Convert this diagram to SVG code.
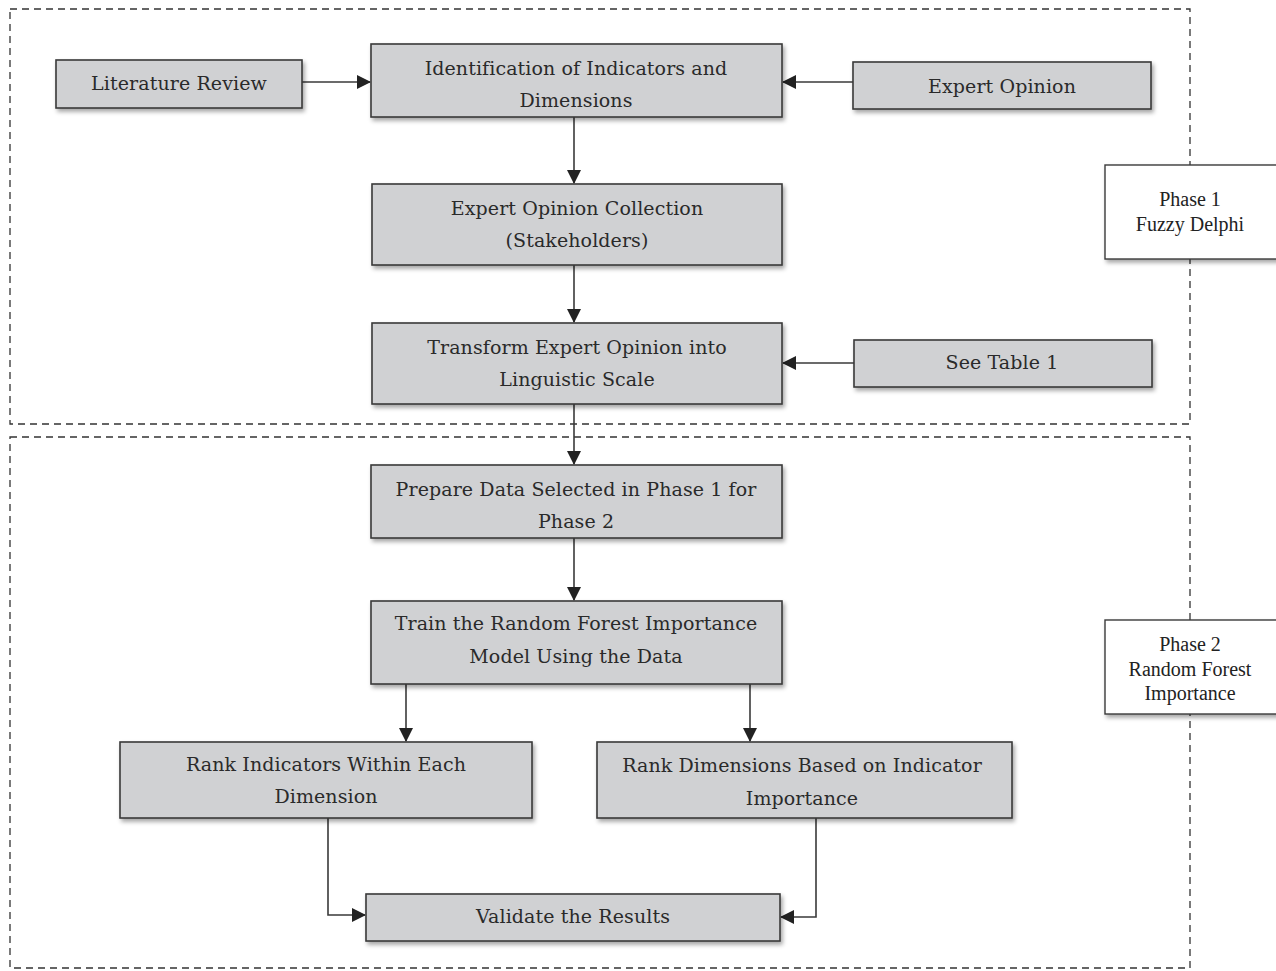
<svg xmlns="http://www.w3.org/2000/svg" width="1276" height="971" viewBox="0 0 1276 971">
<style>
.node rect{fill:#d0d1d3;stroke:#3a3a3a;stroke-width:1.6;filter:url(#sh)}
.lab rect{fill:#ffffff;stroke:#3a3a3a;stroke-width:1.4;filter:url(#sh)}
.node text{font-family:"DejaVu Serif",serif;font-size:19px;fill:#2a2a2a;text-anchor:middle;letter-spacing:0.1px}
.lab text{font-family:"Liberation Serif",serif;font-size:20px;fill:#222;text-anchor:middle}
.phase{fill:none;stroke:#333;stroke-width:1.3;stroke-dasharray:7 5}
#connectors path{fill:none;stroke:#3a3a3a;stroke-width:1.6;marker-end:url(#ah)}
</style>
<defs>
<filter id="sh" x="-5%" y="-10%" width="112%" height="130%">
<feDropShadow dx="2" dy="3" stdDeviation="2" flood-color="#000" flood-opacity="0.35"/>
</filter>
<marker id="ah" markerWidth="14" markerHeight="14" refX="13" refY="7" orient="auto" markerUnits="userSpaceOnUse">
<path d="M0,0 L14,7 L0,14 z" fill="#222"/>
</marker>
</defs>
<rect width="1276" height="971" fill="#fff"/>
<g id="phases">
<rect class="phase" x="10" y="9" width="1180" height="415"/>
<rect class="phase" x="10" y="437" width="1180" height="531"/>
</g>
<g id="connectors">
<path d="M302,82 H370"/>
<path d="M853,82 H783"/>
<path d="M574,117 V183"/>
<path d="M574,265 V322"/>
<path d="M854,363 H783"/>
<path d="M574,404 V464"/>
<path d="M574,538 V600"/>
<path d="M406,684 V741"/>
<path d="M750,684 V741"/>
<path d="M328,818 V915 H365"/>
<path d="M816,818 V917 H781"/>
</g>
<g id="n-lit" class="node"><rect x="56" y="60" width="246" height="48"/><text x="179" y="90">Literature Review</text></g>
<g id="n-ident" class="node"><rect x="371" y="44" width="411" height="73"/><text x="576" y="75">Identification of Indicators and</text><text x="576" y="107">Dimensions</text></g>
<g id="n-expert" class="node"><rect x="853" y="62" width="298" height="47"/><text x="1002" y="93">Expert Opinion</text></g>
<g id="n-collect" class="node"><rect x="372" y="184" width="410" height="81"/><text x="577" y="215">Expert Opinion Collection</text><text x="577" y="247">(Stakeholders)</text></g>
<g id="n-transform" class="node"><rect x="372" y="323" width="410" height="81"/><text x="577" y="354">Transform Expert Opinion into</text><text x="577" y="386">Linguistic Scale</text></g>
<g id="n-table" class="node"><rect x="854" y="340" width="298" height="47"/><text x="1002" y="369">See Table 1</text></g>
<g id="n-prepare" class="node"><rect x="371" y="465" width="411" height="73"/><text x="576" y="496">Prepare Data Selected in Phase 1 for</text><text x="576" y="528">Phase 2</text></g>
<g id="n-train" class="node"><rect x="371" y="601" width="411" height="83"/><text x="576" y="630">Train the Random Forest Importance</text><text x="576" y="663">Model Using the Data</text></g>
<g id="n-rankind" class="node"><rect x="120" y="742" width="412" height="76"/><text x="326" y="771">Rank Indicators Within Each</text><text x="326" y="803">Dimension</text></g>
<g id="n-rankdim" class="node"><rect x="597" y="742" width="415" height="76"/><text x="802" y="772">Rank Dimensions Based on Indicator</text><text x="802" y="805">Importance</text></g>
<g id="n-validate" class="node"><rect x="366" y="894" width="414" height="47"/><text x="573" y="923">Validate the Results</text></g>
<g id="l-phase1" class="lab"><rect x="1105" y="165" width="180" height="94"/><text x="1190" y="206">Phase 1</text><text x="1190" y="231">Fuzzy Delphi</text></g>
<g id="l-phase2" class="lab"><rect x="1105" y="620" width="180" height="94"/><text x="1190" y="651">Phase 2</text><text x="1190" y="676">Random Forest</text><text x="1190" y="700">Importance</text></g>
</svg>
